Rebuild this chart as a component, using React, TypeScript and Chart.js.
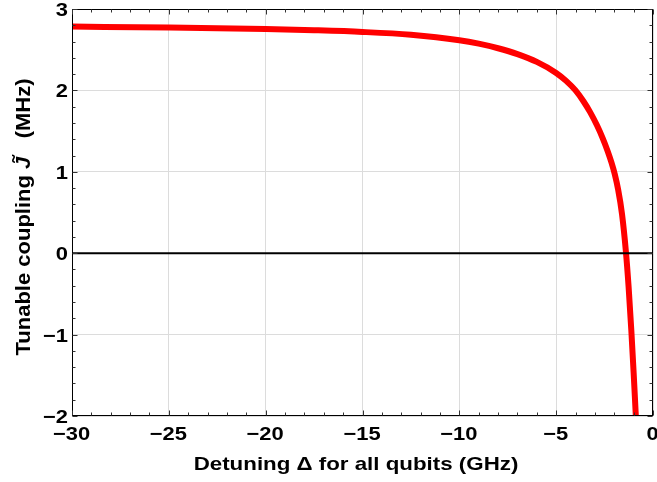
import React, { useEffect, useRef } from "react";
import { Chart, registerables } from "chart.js";

Chart.register(...registerables);

// Detuning Δ (GHz) and tunable coupling J̃ (MHz)
const detuning = [-30, -25, -20, -17.5, -15, -12.5, -10, -9, -8, -7, -6, -5, -4.5, -4, -3.6, -3.24, -2.9, -2.6, -2.34, -2.15, -1.98, -1.8, -1.6, -1.4, -1.26, -1.12, -1.0, -0.9, -0.85];
const coupling = [2.784, 2.772, 2.754, 2.739, 2.718, 2.683, 2.616, 2.574, 2.518, 2.446, 2.35, 2.215, 2.12, 2.0, 1.87, 1.73, 1.574, 1.414, 1.253, 1.118, 0.975, 0.781, 0.481, 0.021, -0.413, -0.945, -1.467, -1.937, -2.17];

const xMin = -30;
const xMax = 0;
const xStep = 5;
const xMinorStep = 1;
const yMin = -2;
const yMax = 3;
const yStep = 1;
const yMinorStep = 0.2;

const xTitle = "Detuning Δ for all qubits (GHz)";
const yTitleA = "Tunable coupling ";
const yTitleJ = "J";
const yTitleB = "   (MHz)";

const FONT = "'Liberation Sans', Arial, sans-serif";
const TICK_FONT = `bold 18.6px ${FONT}`;
const TICK_STRETCH = 1.18;

const fmt = (v: number) => (v < 0 ? "\u2212" + Math.abs(v) : String(v));

function stretchedText(ctx: CanvasRenderingContext2D, text: string, x: number, y: number, align: "left" | "center" | "right", sx: number) {
  const w = ctx.measureText(text).width * sx;
  let left = x;
  if (align === "center") left = x - w / 2;
  else if (align === "right") left = x - w;
  ctx.save();
  ctx.translate(left, y);
  ctx.scale(sx, 1);
  ctx.textAlign = "left";
  ctx.fillText(text, 0, 0);
  ctx.restore();
}

const framePlugin = {
  id: "frameTicks",
  afterDatasetsDraw(chart: any) {
    const { ctx, chartArea: a, scales } = chart;
    const x = scales.x;
    const y = scales.y;
    ctx.save();
    // zero line
    const y0 = y.getPixelForValue(0);
    ctx.strokeStyle = "#000";
    ctx.lineWidth = 2;
    ctx.beginPath();
    ctx.moveTo(a.left, y0);
    ctx.lineTo(a.right, y0);
    ctx.stroke();

    // frame
    ctx.lineWidth = 1;
    const L = Math.round(a.left) + 0.5;
    const R = Math.round(a.right) - 0.5;
    const T = Math.round(a.top) + 0.5;
    const B = Math.round(a.bottom) - 0.5;
    ctx.strokeRect(L, T, R - L, B - T);

    // ticks inward on all sides
    ctx.strokeStyle = "#333";
    ctx.beginPath();
    const nx = Math.round((xMax - xMin) / xMinorStep);
    for (let i = 0; i <= nx; i++) {
      const v = xMin + i * xMinorStep;
      const major = Math.abs(v / xStep - Math.round(v / xStep)) < 1e-6;
      const len = major ? 5 : 3;
      const px = Math.round(x.getPixelForValue(v)) + 0.5;
      ctx.moveTo(px, B);
      ctx.lineTo(px, B - len);
      ctx.moveTo(px, T);
      ctx.lineTo(px, T + len);
    }
    const ny = Math.round((yMax - yMin) / yMinorStep);
    for (let i = 0; i <= ny; i++) {
      const v = yMin + i * yMinorStep;
      const major = Math.abs(v / yStep - Math.round(v / yStep)) < 1e-6;
      const len = major ? 5 : 3;
      const py = Math.round(y.getPixelForValue(v)) + 0.5;
      ctx.moveTo(L, py);
      ctx.lineTo(L + len, py);
      ctx.moveTo(R, py);
      ctx.lineTo(R - len, py);
    }
    ctx.stroke();

    // tick labels from the scales' own ticks
    ctx.fillStyle = "#000";
    ctx.font = TICK_FONT;
    ctx.textBaseline = "alphabetic";
    for (const t of x.ticks) {
      const px = x.getPixelForValue(t.value);
      stretchedText(ctx, fmt(t.value), px - 0.5, 439.5, "center", TICK_STRETCH);
    }
    for (const t of y.ticks) {
      const py = y.getPixelForValue(t.value);
      stretchedText(ctx, fmt(t.value), 68, py + 7, "right", TICK_STRETCH);
    }

    // axis titles
    ctx.font = `bold 18.6px ${FONT}`;
    stretchedText(ctx, xTitle, 356, 470, "center", 1.2);

    ctx.translate(29.5, 217);
    ctx.rotate(-Math.PI / 2);
    ctx.scale(1.1, 1);
    ctx.textAlign = "left";
    const bold = `bold 20px ${FONT}`;
    const boldIt = `italic bold 20px ${FONT}`;
    ctx.font = bold;
    const wA = ctx.measureText(yTitleA).width;
    const wB = ctx.measureText(yTitleB).width;
    ctx.font = boldIt;
    const wJ = ctx.measureText(yTitleJ).width;
    let sx = -(wA + wJ + wB) / 2;
    ctx.font = bold;
    ctx.fillText(yTitleA, sx, 0);
    sx += wA;
    ctx.font = boldIt;
    ctx.fillText(yTitleJ, sx, 0);
    ctx.font = bold;
    ctx.textAlign = "center";
    ctx.fillText("\u02DC", sx + wJ * 0.8, -3);
    ctx.textAlign = "left";
    sx += wJ;
    ctx.fillText(yTitleB, sx, 0);
    ctx.restore();
  },
};

export default function App() {
  const ref = useRef<HTMLCanvasElement | null>(null);
  useEffect(() => {
    if (!ref.current) return;
    const points = detuning.map((d, i) => ({ x: d, y: coupling[i] }));
    const chart = new Chart(ref.current, {
      type: "line",
      data: {
        datasets: [
          {
            data: points,
            borderColor: "#ff0000",
            borderWidth: 6,
            borderJoinStyle: "round",
            pointRadius: 0,
            cubicInterpolationMode: "monotone",
            fill: false,
            clip: { left: 3, top: 3, right: 3, bottom: 0 } as any,
          },
        ],
      },
      options: {
        responsive: false,
        animation: false,
        devicePixelRatio: 1,
        layout: { padding: { top: 9, right: 4, left: 0, bottom: 0 } },
        plugins: { legend: { display: false }, tooltip: { enabled: false } },
        scales: {
          x: {
            type: "linear",
            min: xMin,
            max: xMax,
            grid: { color: "#dcdcdc", lineWidth: 1, drawTicks: false },
            border: { display: false },
            ticks: { stepSize: xStep, display: false, autoSkip: false },
            afterFit: (s: any) => {
              s.height = 66;
              s.paddingLeft = 0;
              s.paddingRight = 0;
            },
          },
          y: {
            type: "linear",
            min: yMin,
            max: yMax,
            grid: { color: "#dcdcdc", lineWidth: 1, drawTicks: false },
            border: { display: false },
            ticks: { stepSize: yStep, display: false, autoSkip: false },
            afterFit: (s: any) => {
              s.width = 72;
              s.paddingTop = 0;
              s.paddingBottom = 0;
            },
          },
        },
      },
      plugins: [framePlugin],
    });
    return () => chart.destroy();
  }, []);
  return (
    <div style={{ position: "absolute", left: 0, top: 0, width: 657, height: 482 }}>
      <canvas ref={ref} width={657} height={482} style={{ display: "block" }} />
    </div>
  );
}
